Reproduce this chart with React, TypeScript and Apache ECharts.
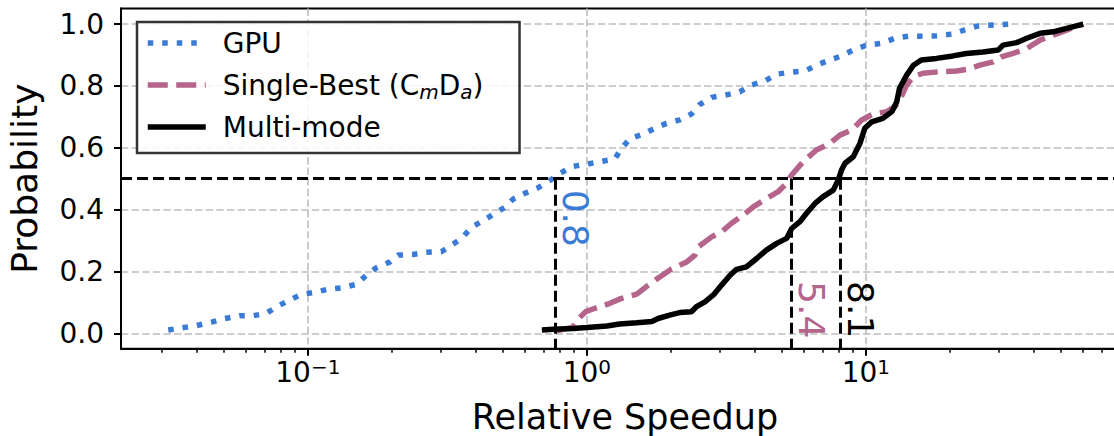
import React, { useEffect, useRef } from "react";
import * as echarts from "echarts";

// ---------- data ----------
const seriesNames = ["GPU", "Single-Best (CmDa)", "Multi-mode"];

const gpuSpeedup = [0.0316, 0.0399, 0.0452, 0.0504, 0.057, 0.0637, 0.0711, 0.0773, 0.0862, 0.0949, 0.107, 0.118, 0.132, 0.149, 0.162, 0.176, 0.197, 0.211, 0.238, 0.266, 0.301, 0.327, 0.356, 0.386, 0.425, 0.468, 0.508, 0.544, 0.6, 0.669, 0.726, 0.8, 0.881, 1.0, 1.11, 1.26, 1.33, 1.43, 1.59, 1.75, 1.93, 2.15, 2.37, 2.54, 2.8, 3.13, 3.53, 3.89, 4.35, 4.79, 5.34, 6.05, 6.65, 7.43, 8.18, 9.01, 9.92, 11.4, 12.7, 14.2, 15.8, 17.9, 20.5, 22.6, 25.3, 28.6, 32.8];
const gpuProb = [0.011, 0.025, 0.036, 0.048, 0.057, 0.057, 0.065, 0.086, 0.108, 0.126, 0.133, 0.143, 0.147, 0.158, 0.188, 0.212, 0.231, 0.253, 0.255, 0.262, 0.264, 0.285, 0.307, 0.343, 0.364, 0.388, 0.407, 0.434, 0.453, 0.471, 0.49, 0.517, 0.539, 0.547, 0.555, 0.564, 0.598, 0.63, 0.644, 0.663, 0.679, 0.69, 0.709, 0.74, 0.763, 0.77, 0.781, 0.803, 0.816, 0.838, 0.844, 0.848, 0.867, 0.884, 0.897, 0.916, 0.93, 0.938, 0.954, 0.961, 0.961, 0.962, 0.968, 0.981, 0.994, 0.997, 1.0];

const singleSpeedup = [0.78, 0.89, 0.94, 0.99, 1.07, 1.21, 1.33, 1.51, 1.66, 1.83, 2.01, 2.28, 2.44, 2.51, 2.8, 3.04, 3.3, 3.63, 3.95, 4.4, 4.85, 5.2, 5.42, 5.96, 6.65, 7.43, 8.07, 8.89, 9.66, 10.6, 11.9, 12.7, 13.4, 14.0, 14.8, 16.0, 18.4, 21.1, 22.9, 25.6, 28.6, 30.6, 33.7, 37.7, 42.1, 46.9, 53.0, 60.1];
const singleProb = [0.008, 0.02, 0.05, 0.07, 0.081, 0.097, 0.113, 0.127, 0.156, 0.183, 0.208, 0.231, 0.253, 0.28, 0.312, 0.328, 0.356, 0.382, 0.409, 0.436, 0.458, 0.485, 0.512, 0.555, 0.593, 0.614, 0.641, 0.657, 0.69, 0.709, 0.717, 0.733, 0.765, 0.803, 0.83, 0.841, 0.846, 0.848, 0.853, 0.867, 0.878, 0.894, 0.905, 0.921, 0.948, 0.964, 0.982, 1.0];

const multiSpeedup = [0.69, 0.757, 0.893, 1.0, 1.18, 1.31, 1.51, 1.71, 1.8, 1.98, 2.15, 2.37, 2.47, 2.65, 2.84, 3.04, 3.26, 3.44, 3.73, 4.06, 4.4, 4.79, 5.2, 5.42, 5.8, 6.13, 6.57, 7.03, 7.64, 7.96, 8.18, 8.42, 9.01, 9.52, 9.91, 10.5, 11.5, 12.4, 12.9, 13.2, 14.0, 14.8, 15.8, 17.9, 20.5, 22.9, 26.3, 29.8, 31.0, 34.7, 37.7, 42.1, 46.9, 52.4, 60.1];
const multiProb = [0.011, 0.013, 0.016, 0.019, 0.024, 0.03, 0.034, 0.038, 0.048, 0.059, 0.067, 0.07, 0.086, 0.102, 0.124, 0.156, 0.188, 0.207, 0.215, 0.242, 0.269, 0.291, 0.307, 0.339, 0.361, 0.388, 0.42, 0.442, 0.463, 0.496, 0.528, 0.55, 0.571, 0.614, 0.663, 0.684, 0.695, 0.717, 0.749, 0.792, 0.835, 0.867, 0.884, 0.889, 0.897, 0.905, 0.91, 0.916, 0.932, 0.94, 0.954, 0.97, 0.975, 0.986, 1.0];

const medianSpeedups = [0.77, 5.4, 8.1];
const medianProb = 0.5;
const xTickExponents = [-1, 0, 1];
const yTickValues = [0, 0.2, 0.4, 0.6, 0.8, 1.0];
const xRange = [0.0214, 87.7];
const yRange = [-0.05, 1.05];

// ---------- styles ----------
const FONT = "'DejaVu Sans', sans-serif";
const BLUE = "#3a7bd5";
const PINK = "#b5648c";
const BLACK = "#000000";
const GRID_GRAY = "#bdbdbd";
const seriesColors = [BLUE, PINK, BLACK];
const seriesDash: any[] = [[5.5, 9], [20, 8.5], "solid"];
const annotationAnchor = ["top", "bottom", "bottom"];

const lg = (v: number) => Math.log10(v);
const toPairs = (xs: number[], ys: number[]) => xs.map((x, i) => [lg(x), ys[i]]);

function minorTickLogs(): number[] {
  const out: number[] = [];
  for (let d = -3; d <= 2; d++) {
    for (let k = 2; k <= 9; k++) {
      const v = k * Math.pow(10, d);
      if (v > xRange[0] && v < xRange[1]) out.push(lg(v));
    }
  }
  return out;
}

export default function App() {
  const ref = useRef<HTMLDivElement>(null);

  useEffect(() => {
    document.body.style.margin = "0";
    if (!ref.current) return;
    const chart = echarts.init(ref.current, undefined, { renderer: "svg" });

    const xMin = lg(xRange[0]);
    const xMax = lg(xRange[1]);
    const datasets = [
      toPairs(gpuSpeedup, gpuProb),
      toPairs(singleSpeedup, singleProb),
      toPairs(multiSpeedup, multiProb),
    ];

    const series: any[] = seriesNames.map((name, i) => ({
      name,
      type: "line",
      data: datasets[i],
      symbol: "none",
      showSymbol: false,
      silent: true,
      lineStyle: { color: seriesColors[i], width: 5.5, type: seriesDash[i], cap: "butt" },
      itemStyle: { color: seriesColors[i] },
      emphasis: { disabled: true },
    }));
    series[2].markLine = {
      silent: true,
      symbol: ["none", "none"],
      label: { show: false },
      emphasis: { disabled: true },
      lineStyle: { color: BLACK, width: 3, type: [11, 5] },
      data: [
        { yAxis: medianProb },
        ...medianSpeedups.map((m) => [
          { coord: [lg(m), medianProb] },
          { coord: [lg(m), yRange[0]] },
        ]),
      ],
    };

    const gridLine = { show: true, lineStyle: { color: GRID_GRAY, width: 1.6, type: [7.4, 3.2] } };

    const option: any = {
      animation: false,
      backgroundColor: "#ffffff",
      textStyle: { fontFamily: FONT },
      grid: {
        left: 121,
        top: 8.6,
        width: 1008,
        height: 340.2,
        outerBoundsMode: "none",
        containLabel: false,
        show: true,
        borderColor: BLACK,
        borderWidth: 2,
        backgroundColor: "transparent",
      },
      xAxis: [
        {
          type: "value",
          min: xMin,
          max: xMax,
          axisLine: { show: true, onZero: false, lineStyle: { color: BLACK, width: 2 } },
          axisTick: { show: true, customValues: xTickExponents, length: 7, lineStyle: { color: BLACK, width: 2 } },
          axisLabel: {
            customValues: xTickExponents,
            margin: 8,
            formatter: (v: number) => {
              const e = Math.round(v);
              return `{b|10}{s|${e < 0 ? "\u2212" : ""}${Math.abs(e)}}`;
            },
            rich: {
              b: { fontSize: 28, fontFamily: FONT, color: BLACK, lineHeight: 32 },
              s: { fontSize: 20, fontFamily: FONT, color: BLACK, lineHeight: 20, verticalAlign: "top" },
            },
          },
          splitLine: gridLine,
          name: "Relative Speedup",
          nameLocation: "middle",
          nameGap: 49,
          nameTextStyle: { fontSize: 35, fontFamily: FONT, color: BLACK, lineHeight: 38 },
        },
        {
          type: "value",
          min: xMin,
          max: xMax,
          position: "bottom",
          axisLine: { show: false, onZero: false },
          axisTick: { show: true, customValues: minorTickLogs(), length: 4, lineStyle: { color: BLACK, width: 1.5 } },
          axisLabel: { show: false },
          splitLine: { show: false },
        },
      ],
      yAxis: {
        type: "value",
        min: yRange[0],
        max: yRange[1],
        axisLine: { show: true, onZero: false, lineStyle: { color: BLACK, width: 2 } },
        axisTick: { show: true, customValues: yTickValues, length: 7, lineStyle: { color: BLACK, width: 2 } },
        axisLabel: {
          customValues: yTickValues,
          formatter: (v: number) => v.toFixed(1),
          fontSize: 28,
          fontFamily: FONT,
          color: BLACK,
          margin: 17,
        },
        splitLine: gridLine,
        name: "Probability",
        nameLocation: "middle",
        nameGap: 77,
        nameTextStyle: { fontSize: 36, fontFamily: FONT, color: BLACK, lineHeight: 40 },
      },
      legend: {
        orient: "vertical",
        left: 137,
        top: 22,
        padding: [4, 36, 9, 8],
        itemWidth: 58,
        itemHeight: 14,
        itemGap: 8,
        backgroundColor: "rgba(255,255,255,0.85)",
        borderColor: "#333333",
        borderWidth: 2.5,
        borderRadius: 0,
        selectedMode: false,
        lineStyle: { width: 5.5 },
        itemStyle: { color: "rgba(0,0,0,0)", borderWidth: 0, opacity: 0 },
        data: seriesNames,
        formatter: (name: string) =>
          name === seriesNames[1] ? "Single-Best (C{sub|m}D{sub|a})" : name,
        textStyle: {
          fontFamily: FONT,
          fontSize: 28,
          color: BLACK,
          lineHeight: 34,
          padding: [0, 0, 0, 12],
          rich: {
            sub: { fontFamily: FONT, fontSize: 20, fontStyle: "italic", color: BLACK, lineHeight: 22, verticalAlign: "bottom" },
          },
        },
      },
      series,
    };

    chart.setOption(option);

    const yTopPx = chart.convertToPixel({ gridIndex: 0 } as any, [0, medianProb])[1];
    const yZeroPx = chart.convertToPixel({ gridIndex: 0 } as any, [0, 0])[1];
    const graphic = medianSpeedups.map((m, i) => {
      const px = chart.convertToPixel({ gridIndex: 0 } as any, [lg(m), 0])[0];
      const top = annotationAnchor[i] === "top";
      return {
        type: "text",
        x: px + 20,
        y: top ? yTopPx + 11 : yZeroPx + 5,
        rotation: -Math.PI / 2,
        silent: true,
        z: 10,
        style: {
          text: m.toFixed(1),
          fill: seriesColors[i],
          fontSize: 36,
          fontFamily: FONT,
          align: top ? "left" : "right",
          verticalAlign: "middle",
        },
      };
    });
    chart.setOption({ graphic });

    return () => chart.dispose();
  }, []);

  return <div ref={ref} style={{ width: 1114, height: 436 }} />;
}
